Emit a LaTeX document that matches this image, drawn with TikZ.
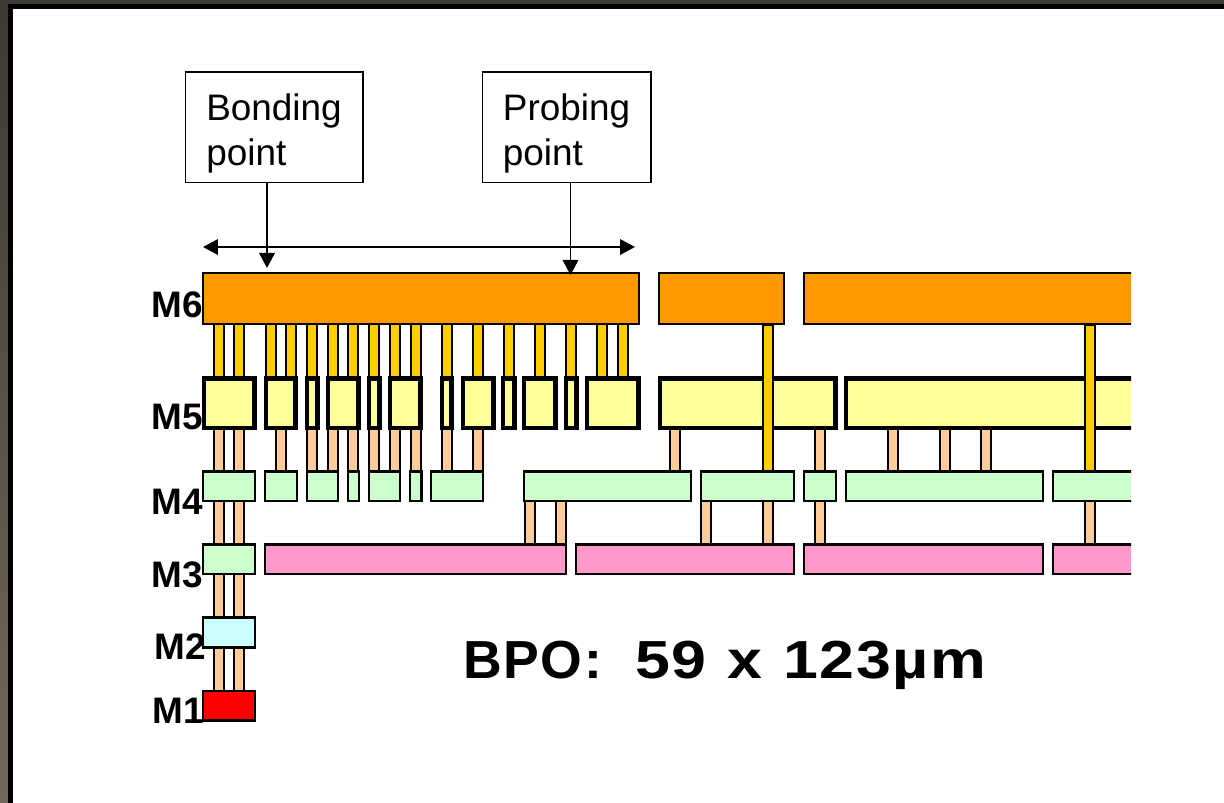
\documentclass[tikz,border=0pt]{standalone}
\usepackage{fontspec}
\setmainfont{Liberation Sans}
\newfontfamily\capsfont[LetterSpace=3,WordSpace=2]{Liberation Sans}
\newfontfamily\widefont[FakeStretch=1.17,LetterSpace=3,WordSpace=1.1]{Liberation Sans}
\usetikzlibrary{arrows.meta,positioning,calc}
\definecolor{frame}{RGB}{60,58,50}
\definecolor{frameb}{RGB}{116,104,90}
\definecolor{msix}{RGB}{255,153,0}
\definecolor{mfive}{RGB}{255,255,153}
\definecolor{mfour}{RGB}{204,255,204}
\definecolor{mtwo}{RGB}{204,255,255}
\definecolor{mthreeb}{RGB}{255,153,204}
\definecolor{viatop}{RGB}{255,204,0}
\definecolor{viapeach}{RGB}{255,204,153}
\def\px{0.02cm}
\tikzset{
  metal/.style={draw, line width=1.3pt, inner sep=0pt, anchor=north west},
  bigmetal/.style={metal, fill=msix, minimum height={53*\px-\pgflinewidth}},
  midmetal/.style={metal, fill=mfive, line width=2.3pt, minimum height={54*\px-\pgflinewidth}},
  lowmetal/.style={metal, minimum height={32*\px-\pgflinewidth}},
  viabox/.style={draw, line width=1.3pt, inner sep=0pt, anchor=north, minimum width={12*\px-\pgflinewidth}},
  call/.style={-{Triangle[length=0.3cm,width=0.31cm]}, line width=1.1pt},
  span/.style={{Triangle[length=0.3cm,width=0.31cm]}-{Triangle[length=0.3cm,width=0.31cm]}, line width=1.1pt},
  tag/.style={draw, line width=1.1pt, align=left, inner sep=0pt, anchor=north west,
              font=\fontsize{21}{25.8}\selectfont, minimum height={112*\px-\pgflinewidth}},
  lab/.style={font=\fontsize{21}{24}\selectfont\bfseries, anchor=base east, inner sep=0pt},
}

\begin{document}
\begin{tikzpicture}[x=0.02cm, y=-0.02cm]
  \useasboundingbox (0,0) rectangle (1224,803);
  \fill[white] (0,0) rectangle (1224,803);
  \shade[top color=frame, bottom color=frameb] (0,0) rectangle (8,803);
  \fill[frame] (0,0) rectangle (1224,4);
  \fill[black] (8,4) rectangle (1224,9);
  \fill[black] (8,4) rectangle (13,803);

  % the right side is cut off
  \begin{scope}
    \clip (0,0) rectangle (1131,803);

    % vias first, metals on top
    \foreach \x [count=\i] in {219,239,271,291,312,333,353,374,395,416,447,478,509,540,571,602,623}
      \node[viabox, fill=viatop, minimum height=57*\px] (top\i) at (\x,323) {};
    \foreach \x [count=\i] in {219,239,281,312,333,353,374,395,416,447,478,675,820,893,945,986}
      \node[viabox, fill=viapeach, minimum height=46*\px] (upper\i) at (\x,428) {};
    \foreach \x [count=\i] in {219,239,530,561,706,768,820,1090}
      \node[viabox, fill=viapeach, minimum height=46*\px] (lower\i) at (\x,500) {};
    \foreach \x [count=\i] in {219,239}
      \node[viabox, fill=viapeach, minimum height=46*\px] (mthree\i) at (\x,573) {};
    \foreach \x [count=\i] in {219,239}
      \node[viabox, fill=viapeach, minimum height=46*\px] (mtwo\i) at (\x,646) {};

    % M6
    \foreach \n/\l/\r in {a/202/640, b/658/785, c/803/1150}
      \node[bigmetal, minimum width={(\r-\l)*\px-\pgflinewidth}] (six\n) at (\l,272) {};
    % M5
    \foreach \n/\l/\r in {a/202/256.5, b/264/297.5, c/305/319.5, d/326/360.5, e/367/381.5, f/388/422.5,
                          g/440/453.5, h/461/495.5, i/501/516.5, j/522/557.5, k/564/578.5, l/585/640.5,
                          m/658/837.5, n/844/1150}
      \node[midmetal, minimum width={(\r-\l)*\px-\pgflinewidth}] (five\n) at (\l,376.5) {};
    % M4
    \foreach \n/\l/\r in {a/202/256, b/264/298, c/306/339, d/347/360, e/368/401, f/409/422.5,
                          g/430/484, h/523/692, i/700/795, j/803/837, k/845/1044, l/1052/1150}
      \node[lowmetal, fill=mfour, minimum width={(\r-\l)*\px-\pgflinewidth}] (four\n) at (\l,470.5) {};
    % M3
    \node[lowmetal, fill=mfour, minimum width={54*\px-\pgflinewidth}] (threea) at (202,543.5) {};
    \foreach \n/\l/\r in {b/264/567, c/575/795, d/803/1044, e/1052/1150}
      \node[lowmetal, fill=mthreeb, minimum width={(\r-\l)*\px-\pgflinewidth}] (three\n) at (\l,543.5) {};
    % M2, M1
    \node[lowmetal, fill=mtwo, minimum width={54*\px-\pgflinewidth}] (twoa) at (202,616.5) {};
    \node[lowmetal, fill=red, minimum width={54*\px-\pgflinewidth}] (onea) at (202,689.5) {};

    % vias through M5
    \foreach \x/\n in {768/a, 1090/b}
      \node[viabox, fill=viatop, minimum height=146*\px] (long\n) at (\x,324) {};
  \end{scope}

  \node[tag, minimum width={179*\px-\pgflinewidth}] (bonding) at (184.5,71.5) {\rule{0pt}{22pt}Bonding\\point};
  \node[tag, minimum width={170*\px-\pgflinewidth}] (probing) at (481.5,71.5) {\rule{0pt}{22pt}Probing\\point};

  \coordinate (spanl) at (203,247);
  \coordinate (spanr) at (635,247);
  \coordinate (bondtip) at (267,268);
  \coordinate (probetip) at (570.5,275);
  \draw[span] (spanl) -- (spanr);
  \draw[call] (bonding.south -| bondtip) -- (bondtip);
  \draw[call] (probing.south -| probetip) -- (probetip);

  \node[lab] (lsix) at (203,318) {M6};
  \node[lab] (lfive) at (203,430) {M5};
  \node[lab] (lfour) at (203,515) {M4};
  \node[lab] (lthree) at (203,587) {M3};
  \node[lab] (ltwo) at (206,660) {M2};
  \node[lab] (lone) at (204,723) {M1};

  \node[font=\fontsize{30.5}{32}\selectfont\bfseries, anchor=base west, inner sep=0pt] (size) at (463,678) {\capsfont BPO: \widefont 59 x 123µm};
\end{tikzpicture}
\end{document}
